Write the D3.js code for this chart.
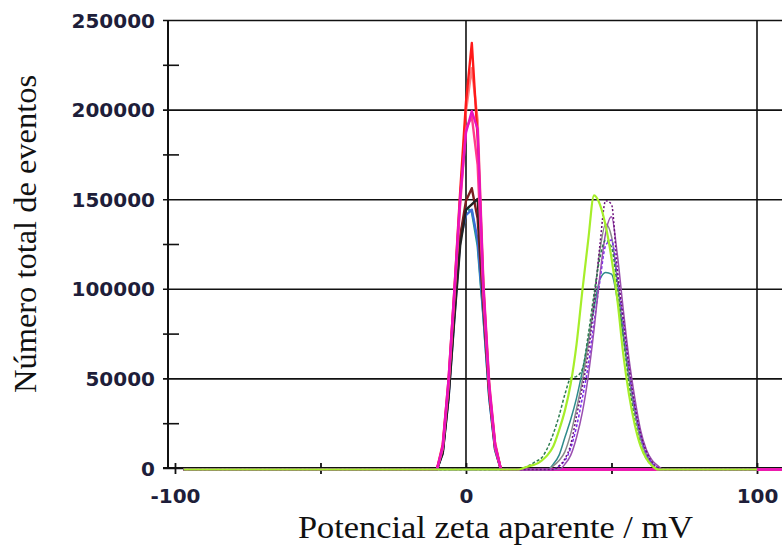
<!DOCTYPE html>
<html>
<head>
<meta charset="utf-8">
<script src="https://cdn.jsdelivr.net/npm/d3@7"></script>
<style>
  body { margin: 0; background: #fff; }
</style>
</head>
<body>
<svg id="chart" width="782" height="546"></svg>
<script>
// axis values
const yMajor = [0, 50000, 100000, 150000, 200000, 250000];
const yMinor = [25000, 75000, 125000, 175000, 225000];
const xTicks = [-100, -50, 0, 50, 100];
const xLabels = [-100, 0, 100];
const xGrid = [0, 100];

// peak near 0 mV
const zetaLow = [-97, -12, -10, -8, -6, -4, -2, 0, 2, 4, 6, 8, 10, 12, 14, 110];
const tealLow = [0, 0, 0, 10000, 42000, 88000, 130000, 146000, 144000, 125000, 85000, 40000, 11000, 0, 0, 0];
const blueLow = [0, 0, 0, 9000, 40000, 85000, 128000, 142000, 145000, 128000, 86000, 40000, 11000, 0, 0, 0];
const brownLow = [0, 0, 0, 10000, 42000, 88000, 130000, 150000, 157000, 140000, 90000, 42000, 12000, 0, 0, 0];
const blackLow = [0, 0, 0, 9000, 40000, 84000, 125000, 145000, 148000, 151000, 95000, 44000, 13000, 0, 0, 0];
const salmonLow = [0, 0, 0, 12000, 48000, 98000, 150000, 200000, 224000, 195000, 104000, 48000, 15000, 0, 0, 0];
const redLow = [0, 0, 0, 14000, 50000, 100000, 155000, 205000, 238000, 185000, 100000, 45000, 14000, 0, 0, 0];
const pinkLow = [0, 0, 0, 12000, 47000, 96000, 148000, 190000, 197000, 170000, 96000, 44000, 12000, 0, 0, 0];
const magentaLow = [0, 0, 0, 13000, 50000, 100000, 152000, 188000, 200000, 190000, 102000, 47000, 14000, 0, 0, 0];

// peak near 50 mV
const zetaHigh = [-97, 16, 18, 20, 22, 24, 26, 28, 30, 32, 34, 36, 38, 40, 42, 44, 46, 48, 50, 52, 54, 56, 58, 60, 62, 64, 66, 68, 70, 100];
const tealHigh = [0, 0, 0, 0, 0, 0, 0, 0, 3000, 8000, 18000, 28000, 40000, 55000, 72000, 90000, 106000, 110000, 109000, 95000, 75000, 52000, 33000, 18000, 8000, 3000, 0, 0, 0, 0];
const grayHigh = [0, 0, 0, 0, 0, 0, 0, 0, 2000, 5000, 10000, 20000, 34000, 50000, 70000, 95000, 122000, 137000, 130000, 105000, 78000, 52000, 32000, 17000, 8000, 3000, 0, 0, 0, 0];
const violetHigh = [0, 0, 0, 0, 0, 0, 0, 0, 0, 2000, 5000, 12000, 24000, 40000, 58000, 82000, 105000, 125000, 128000, 108000, 82000, 56000, 35000, 19000, 9000, 3500, 1000, 0, 0, 0];
const mauveHigh = [0, 0, 0, 0, 0, 0, 0, 0, 0, 0, 3000, 8000, 18000, 32000, 52000, 78000, 108000, 132000, 141000, 120000, 90000, 62000, 40000, 22000, 11000, 5000, 2000, 0, 0, 0];
const purpleHigh = [0, 0, 0, 0, 0, 0, 0, 0, 0, 2000, 6000, 14000, 30000, 46000, 65000, 92000, 125000, 150000, 148000, 112000, 85000, 58000, 36000, 20000, 10000, 4000, 1000, 0, 0, 0];
const darkGreenHigh = [0, 0, 0, 1000, 2500, 4500, 6500, 12000, 20000, 30000, 42000, 51000, 52000, 56000, 75000, 98000, 118000, 128000, 124000, 102000, 75000, 48000, 28000, 14000, 6000, 2000, 0, 0, 0, 0];
const greenHigh = [0, 0, 0, 1000, 2000, 3000, 5000, 8000, 13000, 22000, 33000, 48000, 70000, 100000, 128000, 153000, 148000, 136000, 118000, 95000, 65000, 42000, 25000, 13000, 6000, 2000, 0, 0, 0, 0];

const width = 782, height = 546;
const svg = d3.select("#chart");

const x = d3.scaleLinear().domain([-102.4, 100]).range([168, 757]);
const y = d3.scaleLinear().domain([0, 250000]).range([468, 20]);

const labelFont = "DejaVu Sans, Verdana, sans-serif";
const labelColor = "#1e1e3a";

// y axis with gridlines
const yAxis = svg.append("g")
  .attr("transform", `translate(${x.range()[0]},0)`)
  .call(d3.axisLeft(y).tickValues(yMajor).tickSizeOuter(0).tickFormat(d => d));
yAxis.select(".domain").remove();
yAxis.selectAll(".tick line")
  .attr("x1", -5).attr("x2", width - x.range()[0])
  .attr("stroke", "#111").attr("stroke-width", 1.6);
yAxis.selectAll(".tick text")
  .attr("x", -13).attr("dy", "0.35em")
  .attr("font-family", labelFont).attr("font-weight", "bold")
  .attr("font-size", 20).attr("fill", labelColor);

const yMinorAxis = svg.append("g")
  .attr("transform", `translate(${x.range()[0]},0)`)
  .call(d3.axisLeft(y).tickValues(yMinor).tickSizeOuter(0).tickFormat(""));
yMinorAxis.select(".domain").remove();
yMinorAxis.selectAll(".tick line")
  .attr("x1", -5).attr("x2", 11)
  .attr("stroke", "#111").attr("stroke-width", 1.6);

// vertical gridlines
svg.append("g").selectAll("line")
  .data(xGrid)
  .enter()
  .append("line")
  .attr("x1", d => x(d)).attr("x2", d => x(d))
  .attr("y1", y(250000)).attr("y2", y(0))
  .attr("stroke", "#111").attr("stroke-width", 1.6);

// x axis
const xAxis = svg.append("g")
  .attr("transform", `translate(0,${y(0)})`)
  .call(d3.axisBottom(x).tickValues(xTicks).tickSizeOuter(0)
    .tickFormat(d => xLabels.includes(d) ? d : ""));
xAxis.select(".domain").remove();
xAxis.selectAll(".tick line")
  .attr("y1", -5).attr("y2", 6)
  .attr("stroke", "#111").attr("stroke-width", 1.8);
xAxis.selectAll(".tick text")
  .attr("y", 35).attr("dy", null)
  .attr("font-family", labelFont).attr("font-weight", "bold")
  .attr("font-size", 20).attr("fill", labelColor);

// axis lines
svg.append("line")
  .attr("x1", x.range()[0]).attr("x2", x.range()[0])
  .attr("y1", y(250000)).attr("y2", y(0) + 1)
  .attr("stroke", "#111").attr("stroke-width", 2);
svg.append("line")
  .attr("x1", x.range()[0] - 5).attr("x2", width)
  .attr("y1", y(0)).attr("y2", y(0))
  .attr("stroke", "#111").attr("stroke-width", 2);

// curves
const lowSeries = [
  { values: tealLow, color: "#1f9e89" },
  { values: blueLow, color: "#3b6fd8" },
  { values: brownLow, color: "#7a1f1f" },
  { values: blackLow, color: "#222222" },
  { values: salmonLow, color: "#ff8080" },
  { values: redLow, color: "#ff1a1a" },
  { values: pinkLow, color: "#ff3d8b" },
  { values: magentaLow, color: "#e812c0" }
];
const highSeries = [
  { values: tealHigh, color: "#2e8b8b", dash: null },
  { values: grayHigh, color: "#8a8a8a", dash: null },
  { values: violetHigh, color: "#7a2cf0", dash: "3,2" },
  { values: mauveHigh, color: "#9a4fb0", dash: null },
  { values: purpleHigh, color: "#6a0f7a", dash: "2,2" },
  { values: darkGreenHigh, color: "#2e7d4f", dash: "3,2" },
  { values: greenHigh, color: "#a6ee2a", dash: null }
];

const lowLine = d3.line()
  .x((d, i) => x(zetaLow[i]))
  .y(d => y(d));
const highLine = d3.line()
  .x((d, i) => x(zetaHigh[i]))
  .y(d => y(d))
  .curve(d3.curveMonotoneX);

// the plotted traces sit a hair below the axis line in the original
const plot = svg.append("g").attr("transform", "translate(0,1.5)");

plot.append("g").selectAll("path")
  .data(lowSeries)
  .enter()
  .append("path")
  .attr("d", d => lowLine(d.values))
  .attr("fill", "none")
  .attr("stroke", d => d.color)
  .attr("stroke-width", 2.4)
  .attr("stroke-linejoin", "round");

plot.append("g").selectAll("path")
  .data(highSeries)
  .enter()
  .append("path")
  .attr("d", d => highLine(d.values))
  .attr("fill", "none")
  .attr("stroke", d => d.color)
  .attr("stroke-width", (d, i) => i === highSeries.length - 1 ? 2.2 : 1.5)
  .attr("stroke-dasharray", d => d.dash);

// titles
svg.append("text")
  .attr("x", 495.5).attr("y", 538)
  .attr("text-anchor", "middle")
  .attr("font-family", "Liberation Serif, Times New Roman, serif")
  .attr("font-size", 32)
  .attr("textLength", 395).attr("lengthAdjust", "spacingAndGlyphs")
  .attr("fill", "#111")
  .text("Potencial zeta aparente / mV");

svg.append("text")
  .attr("transform", "translate(36,234) rotate(-90)")
  .attr("text-anchor", "middle")
  .attr("font-family", "Liberation Serif, Times New Roman, serif")
  .attr("font-size", 32)
  .attr("textLength", 318).attr("lengthAdjust", "spacingAndGlyphs")
  .attr("fill", "#111")
  .text("Número total de eventos");
</script>
</body>
</html>
